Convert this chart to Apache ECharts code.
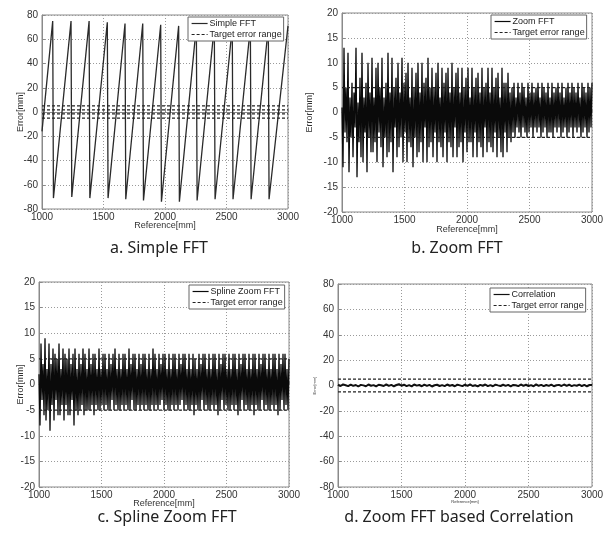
<!DOCTYPE html>
<html><head><meta charset="utf-8">
<script src="https://cdn.jsdelivr.net/npm/echarts@6/dist/echarts.min.js"></script>
<style>html,body{margin:0;padding:0;background:#fff}#c{width:613px;height:537px}</style>
</head><body><div id="c"></div>
<script>
// ---------- DATA ----------
const refMin = 1000, refMax = 3000, refInterval = 500;
const captions = ['a. Simple FFT', 'b. Zoom FFT', 'c. Spline Zoom FFT', 'd. Zoom FFT based Correlation'];
const seriesNames = ['Simple FFT', 'Zoom FFT', 'Spline Zoom FFT', 'Correlation'];
const targetName = 'Target error range';
const xAxisName = 'Reference[mm]';
const yAxisName = 'Error[mm]';
const yRanges = [[-80, 80, 20], [-20, 20, 5], [-20, 20, 5], [-80, 80, 20]];

// a. Simple FFT (sawtooth) : reference positions and errors
const aRef = [1000, 1087, 1093, 1236, 1242, 1383, 1389, 1531, 1537, 1675, 1681, 1819, 1825, 1965, 1971,
  2111, 2117, 2255, 2261, 2401, 2407, 2547, 2553, 2694, 2700, 2840, 2846, 3000];
const aErr = [-16, 75, -71, 75, -70, 75, -71, 74, -71, 73, -72, 73, -73, 72, -74,
  71, -74, 71, -73, 71, -72, 70, -72, 70, -72, 70, -72, 71];
const aTarget = [5, 1.7, -1.5, -5];

// b. Zoom FFT : sampled every 8 mm from 1000 mm
const bStep = 8;
const bErr = [
  1,-11,13,-4,5, -6,12,-12,3,-5, 6,-9,4,-3,13, -13,2,-6,7,-9, 12,-10,3,-4,6,
  -12,10,-5,4,-8, 11,-8,3,-6,9, -10,10,-4,5,-7, 11,-11,3,-5,6, -9,12,-8,4,-6,
  11,-12,5,-3,7, -9,10,-7,4,-5, 11,-10,6,-4,8, -10,10,-6,3,-7, 9,-11,5,-5,8,
  -9,10,-8,4,-6, 10,-10,6,-3,7, -10,11,-7,5,-6, 9,-9,5,-4,8, -10,10,-6,3,-7,
  9,-9,6,-4,8, -10,9,-6,4,-7, 10,-9,5,-3,8, -9,9,-7,4,-6, 9,-10,5,-4,7,
  -8,9,-6,3,-6, 9,-9,5,-4,7, -9,8,-6,4,-7, 9,-9,5,-3,6, -8,9,-6,4,-7,
  9,-8,5,-4,7, -9,8,-5,3,-8, 9,-9,6,-4,6, -8,8,-5,4,-6,
  5,-4,6,-5,3,-3,6,-4,4,-5, 6,-3,5,-4,3,-5,6,-4,4,-3,
  6,-5,4,-3,5,-4,6,-3,3,-5, 6,-4,5,-3,4,-5,6,-4,3,-4,
  6,-5,4,-3,5,-4,6,-3,4,-5, 6,-4,3,-3,5,-5,6,-4,4,-3,
  6,-5,5,-3,4,-4,6,-3,3,-5, 6,-4,5,-3,4,-5,6,-4,5,-3,
  6];

// c. Spline Zoom FFT : sampled every 8 mm from 1000 mm
const cStep = 8;
const cErr = [
  2,-8,8,-3,4, -6,9,-7,3,-5, 8,-9,4,-4,7, -7,6,-3,5,-6, 8,-6,3,-4,7,
  -7,6,-4,5,-6, 7,-6,4,-3,6, -8,7,-5,3,-6, 6,-5,4,-4,7, -6,6,-5,3,-5,
  7,-5,4,-4,6, -6,6,-4,3,-5, 7,-5,3,-4,6, -5,6,-4,3,-5, 6,-5,4,-3,6,
  -5,7,-4,3,-5, 6,-5,3,-4,6, -5,6,-4,3,-5, 7,-5,4,-3,6, -5,6,-5,3,-4,
  6,-5,4,-4,6, -5,6,-4,3,-5, 6,-5,3,-4,7, -5,6,-4,3,-5, 6,-4,4,-3,6,
  -5,6,-4,3,-5, 6,-5,3,-4,6, -5,6,-4,3,-5, 6,-4,4,-3,6, -5,6,-4,3,-5,
  6,-5,3,-4,6, -6,5,-4,3,-5, 6,-5,4,-3,6, -5,6,-4,3,-5, 6,-5,3,-4,6,
  -5,6,-4,3,-6, 6,-5,4,-3,6, -5,6,-4,3,-5, 6,-5,3,-4,6, -5,6,-4,3,-6,
  6,-5,4,-3,6, -5,6,-4,3,-5, 6,-5,3,-4,6, -6,6,-4,3,-5, 6,-5,4,-3,6,
  -5,6,-4,3,-5, 6,-5,3,-4,6, -5,6,-4,3,-6, 6,-5,4,-3,6, -5,6,-4,3,-5,
  5];

// d. Correlation : sampled every 20 mm from 1000 mm
const dStep = 20;
const dErr = [
  0.6,-0.4,0.9,0.2,-0.5,0.7,-0.3,0.4,-0.8,0.5,
  0.1,-0.6,0.8,-0.2,0.3,-0.7,0.6,0.2,-0.4,0.9,
  -0.3,0.5,-0.6,0.4,1.1,-0.2,0.6,-0.5,0.3,-0.7,
  0.8,-0.1,0.4,-0.6,0.7,-0.3,0.5,-0.8,0.2,0.6,
  -0.4,0.3,-0.5,0.8,-0.2,0.4,-0.6,0.7,0.1,-0.5,
  0.6,-0.3,0.9,-0.4,0.2,-0.7,0.5,-0.2,0.8,-0.5,
  0.3,-0.6,0.7,0.1,-0.4,0.6,-0.3,0.5,-0.7,0.4,
  0.2,-0.5,0.8,-0.3,0.6,-0.4,0.3,-0.6,0.9,-0.2,
  0.5,-0.5,0.4,-0.3,0.7,-0.6,0.2,0.5,-0.4,0.8,
  -0.3,0.6,-0.5,0.3,-0.2,0.7,-0.4,0.5,-0.6,0.4,
  0.3];
const target = [5, -5];

// ---------- LAYOUT ----------
const layout = [
  {grid:{left:42, top:15, width:246, height:194}, legend:{left:188, top:17}, cap:[159,248], yGap:17, xGap:12, nameSize:9, lw:1.3, color:'#2a2a2a'},
  {grid:{left:342, top:13, width:250, height:199}, legend:{left:491, top:15}, cap:[457,248], yGap:28, xGap:13, nameSize:9, lw:1.3, color:'#0a0a0a'},
  {grid:{left:39, top:282, width:250, height:205}, legend:{left:189, top:285}, cap:[167,517], yGap:14, xGap:12, nameSize:9, lw:1.3, color:'#0a0a0a'},
  {grid:{left:338, top:284, width:254, height:203}, legend:{left:490, top:288}, cap:[459,517], yGap:21, xGap:13, nameSize:4, lw:2, color:'#111'}
];

function sampled(vals, step) { return vals.map((v, i) => [refMin + i * step, v]); }
const mainData = [
  aRef.map((x, i) => [x, aErr[i]]),
  sampled(bErr, bStep),
  sampled(cErr, cStep),
  sampled(dErr, dStep)
];
const targets = [aTarget, target, target, target];

const font = '"Liberation Sans", Arial, sans-serif';
const plain = v => String(v);
const grids = [], xAxes = [], yAxes = [], series = [], legends = [], graphics = [];
layout.forEach((L, i) => {
  grids.push(Object.assign({show:true, borderColor:'#8a8a8a', borderWidth:1, backgroundColor:'#fff'}, L.grid));
  xAxes.push({
    gridIndex:i, type:'value', min:refMin, max:refMax, interval:refInterval,
    name:xAxisName, nameLocation:'middle', nameGap:L.xGap, nameMoveOverlap:false,
    nameTextStyle:{fontSize:L.nameSize, color:'#333', fontFamily:font},
    axisLine:{show:true, lineStyle:{color:'#8a8a8a'}},
    axisTick:{show:true, inside:true, length:3, lineStyle:{color:'#8a8a8a'}},
    axisLabel:{fontSize:10, color:'#333', margin:3, fontFamily:font, formatter:plain},
    splitLine:{show:true, lineStyle:{type:[1,2], color:'#9a9a9a', width:1}}
  });
  yAxes.push({
    gridIndex:i, type:'value', min:yRanges[i][0], max:yRanges[i][1], interval:yRanges[i][2],
    name:yAxisName, nameLocation:'middle', nameGap:L.yGap, nameRotate:90, nameMoveOverlap:false,
    nameTextStyle:{fontSize:L.nameSize, color:'#333', fontFamily:font},
    axisLine:{show:true, lineStyle:{color:'#8a8a8a'}},
    axisTick:{show:true, inside:true, length:3, lineStyle:{color:'#8a8a8a'}},
    axisLabel:{fontSize:10, color:'#333', margin:4, fontFamily:font, formatter:plain},
    splitLine:{show:true, lineStyle:{type:[1,2], color:'#9a9a9a', width:1}}
  });
  series.push({
    name:seriesNames[i], type:'line', xAxisIndex:i, yAxisIndex:i, data:mainData[i],
    symbol:'none', showSymbol:false, sampling:null, animation:false, z:2,
    lineStyle:{color:L.color, width:L.lw}, itemStyle:{color:L.color}
  });
  targets[i].forEach(v => {
    series.push({
      name:targetName, type:'line', xAxisIndex:i, yAxisIndex:i,
      data:[[refMin, v], [refMax, v]], symbol:'none', showSymbol:false, animation:false, z:3,
      lineStyle:{color:'#222', width:1.2, type:[3,2]}, itemStyle:{color:'#222'}
    });
  });
  legends.push({
    left:L.legend.left, top:L.legend.top, orient:'vertical',
    data:[seriesNames[i], targetName], selectedMode:false,
    backgroundColor:'#fff', borderColor:'#666', borderWidth:1, borderRadius:0,
    padding:[2,2,2,3], itemGap:2, itemWidth:16, itemHeight:9,
    itemStyle:{opacity:0, borderWidth:0},
    lineStyle:{width:1.2},
    textStyle:{fontSize:9, color:'#222', fontFamily:font, padding:[0,0,0,-3]}
  });
  graphics.push({
    type:'text', x:L.cap[0], y:L.cap[1],
    style:{text:captions[i], font:'16px "Noto Sans", sans-serif', fill:'#222',
      textAlign:'center', textVerticalAlign:'middle', align:'center', verticalAlign:'middle'}
  });
});

const chart = echarts.init(document.getElementById('c'), null, {renderer:'canvas'});
chart.setOption({
  backgroundColor:'#fff', animation:false,
  grid:grids, xAxis:xAxes, yAxis:yAxes, series:series, legend:legends,
  graphic:{elements:graphics}
});
</script></body></html>
